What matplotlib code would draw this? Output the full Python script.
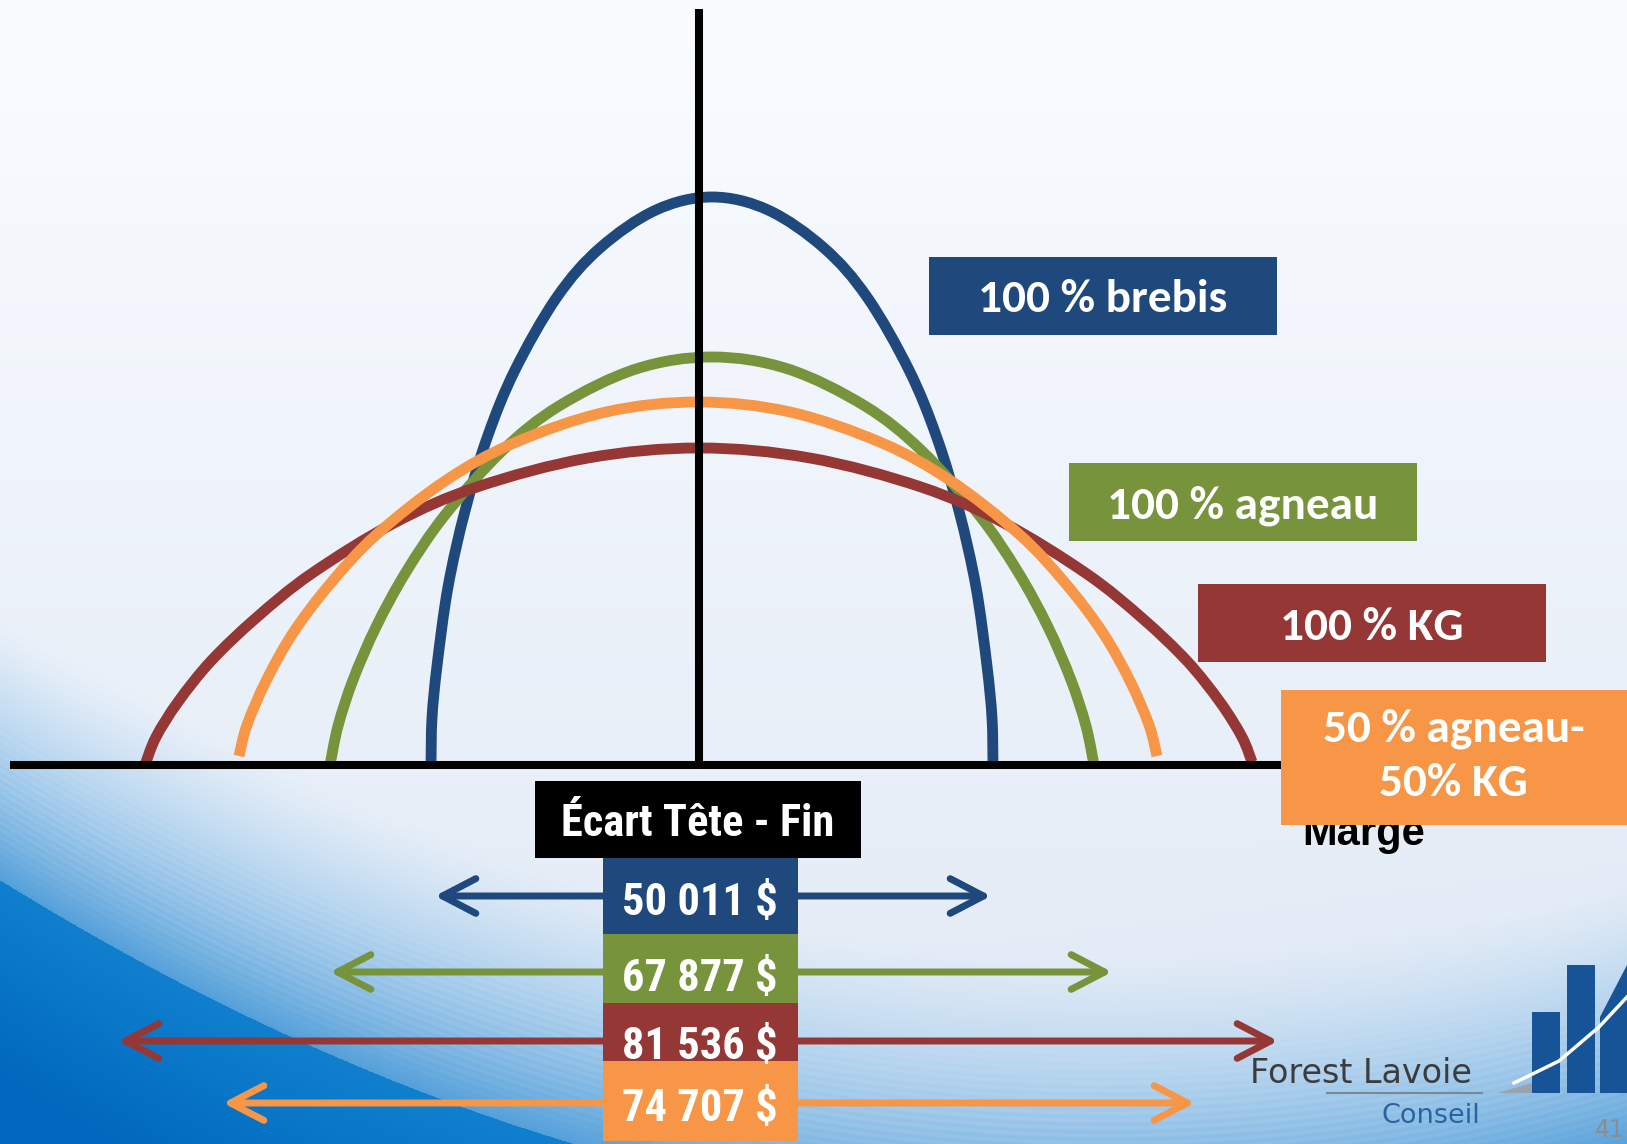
import numpy as np
import matplotlib
matplotlib.use("Agg")
import matplotlib.pyplot as plt
from matplotlib.patches import Rectangle, FancyArrowPatch, Polygon, ArrowStyle, PathPatch
from matplotlib.path import Path

# ------------------------------------------------------------------ data
series = ["100 % brebis", "100 % agneau", "100 % KG", "50 % agneau-\n50% KG"]
ecart_values = [50011, 67877, 81536, 74707]
ecart_title = "Écart Tête - Fin"
marge_title = "Marge"
colors = ["#1f497d", "#77933c", "#953735", "#f79646"]

# curves: x = position relative to the vertical axis, y = marge above the baseline
blue_x = [-268, -267, -262, -251, -234, -212, -184, -142, -99, -43, 13, 69, 125, 168, 210, 238, 260, 277, 288, 293, 294]
blue_y = [0, 47, 99, 178, 254, 327, 395, 468, 517, 555, 568, 555, 517, 468, 395, 327, 254, 178, 99, 47, 0]

green_x = [-369, -361, -346, -323, -293, -254, -197, -140, -63, 13, 89, 166, 223, 280, 319, 349, 372, 387, 395]
green_y = [0, 39, 85, 138, 193, 250, 314, 359, 396, 408, 396, 359, 314, 250, 193, 138, 85, 39, 0]

red_x = [-554, -543, -521, -488, -443, -388, -305, -222, -111, 0, 111, 222, 305, 388, 443, 488, 521, 543, 553]
red_y = [0, 28, 63, 104, 147, 191, 242, 278, 307, 317, 307, 278, 242, 191, 147, 104, 63, 28, 3]

orange_x = [-460, -452, -433, -406, -369, -323, -254, -185, -93, -1, 91, 183, 252, 321, 367, 404, 431, 450, 458]
orange_y = [9, 40, 84, 132, 181, 230, 284, 322, 353, 363, 353, 322, 284, 230, 181, 132, 84, 40, 9]

curves_x = [blue_x, green_x, red_x, orange_x]
curves_y = [blue_y, green_y, red_y, orange_y]

# spread arrows (écart tête - fin) left / right extents
arrow_left = [-264, -369, -581, -476]
arrow_right = [292, 413, 579, 496]

# ------------------------------------------------------------------ layout
W, H = 1627, 1144
X0, Y0 = 699, 765            # pixel position of the origin (axis crossing)
row_y = [-131, -207, -276, -338]
label_boxes = [(230, 430), (370, 224), (499, 103)]   # lower-left corners
label_w, label_h = 348, 78
orange_box = (582, -60, 360, 135)

LABEL_FONT = ["Carlito", "Lato", "DejaVu Sans"]
NARROW_FONT = ["Roboto Condensed", "PT Sans Narrow", "DejaVu Sans"]
ARIAL_FONT = ["Liberation Sans", "DejaVu Sans"]

fig = plt.figure(figsize=(W / 100, H / 100), dpi=100)
ax = fig.add_axes([0, 0, 1, 1])
xmin, xmax, ymin, ymax = -X0, W - X0, Y0 - H, Y0

# ---------------------------------------------------------------- background
yy, xx = np.mgrid[0:H, 0:W].astype(float)
top = np.array([250, 252, 255]) / 255
bot = np.array([224, 233, 245]) / 255
v = (yy / H)[..., None]
img = top * (1 - v) + bot * v
yb = 880 + 0.62 * xx - 0.00028 * xx ** 2
s = yy - yb
band_h = 270
t = np.clip((s + band_h) / band_h, 0, 1)[..., None]
band_col = np.array([85, 160, 218]) / 255
band = img * (1 - t ** 1.4) + band_col * t ** 1.4
stripe = (0.5 + 0.5 * np.sin(2 * np.pi * s / 7.5))[..., None]
amp = np.sin(np.pi * t) * 0.18
band = band * (1 - amp * stripe) + amp * stripe * np.array([0.75, 0.9, 1.0])
img = np.where((s > -band_h)[..., None], band, img)
u = np.clip(s / 200, 0, 1)[..., None]
solid = np.array([16, 128, 206]) / 255 * (1 - u) + np.array([0, 104, 190]) / 255 * u
img = np.where((s > 0)[..., None], solid, img)
# faint light swoosh lower right
yb2 = 1144 - 0.28 * (xx - 650)
s2 = yy - yb2
t2 = (np.clip(1 - np.abs(s2) / 140, 0, 1) * (xx > 650))[..., None]
img = img * (1 - 0.10 * t2) + np.array([205, 222, 240]) / 255 * 0.10 * t2
img = np.clip(img, 0, 1)
ax.imshow(img, extent=(xmin, xmax, ymin, ymax), origin="upper", aspect="auto", zorder=0)


# ---------------------------------------------------------------- curves
def smooth_path(px, py):
    """Catmull-Rom spline through the read points, drawn as cubic Bezier segments."""
    p = np.column_stack([px, py]).astype(float)
    ext = np.vstack([p[0], p, p[-1]])
    verts = [tuple(p[0])]
    codes = [Path.MOVETO]
    for i in range(1, len(ext) - 2):
        p0, p1, p2, p3 = ext[i - 1], ext[i], ext[i + 1], ext[i + 2]
        c1 = p1 + (p2 - p0) / 6.0
        c2 = p2 - (p3 - p1) / 6.0
        verts += [tuple(c1), tuple(c2), tuple(p2)]
        codes += [Path.CURVE4] * 3
    return Path(verts, codes)


for cx, cy, c in zip(curves_x, curves_y, colors):
    ax.add_patch(PathPatch(smooth_path(cx, cy), facecolor="none", edgecolor=c, lw=7.8,
                           capstyle="butt", joinstyle="round", zorder=3))

# axes
ax.plot([0, 0], [0, 756], color="black", lw=5.8, solid_capstyle="butt", zorder=4)
ax.plot([-689, 600], [0, 0], color="black", lw=5.8, solid_capstyle="butt", zorder=4)

# ---------------------------------------------------------------- label boxes
lab_font = dict(family=LABEL_FONT, weight="bold", color="white", fontsize=34)
for (bx, by), name, c in zip(label_boxes, series[:3], colors[:3]):
    ax.add_patch(Rectangle((bx, by), label_w, label_h, facecolor=c, edgecolor="none", zorder=5))
    ax.text(bx + label_w / 2, by + label_h / 2, name, ha="center", va="center_baseline", zorder=6, **lab_font)

# Marge (partly hidden by the orange box)
ax.text(603, -80, marge_title, family=ARIAL_FONT, weight="bold",
        fontsize=30, color="black", ha="left", va="baseline", zorder=5)
ox, oy, ow, oh = orange_box
ax.add_patch(Rectangle((ox, oy), ow, oh, facecolor=colors[3], edgecolor="none", zorder=6))
ax.text(ox + 345 / 2, oy + oh / 2 + 2, series[3], ha="center", va="center", zorder=7,
        linespacing=1.42, multialignment="center", **lab_font)

# ---------------------------------------------------------------- écart section
ax.add_patch(Rectangle((-164, -93), 326, 77, facecolor="black", edgecolor="none", zorder=5))
num_font = dict(family=NARROW_FONT, weight="bold", color="white")
ax.text(-1, -55, ecart_title, ha="center", va="center_baseline", fontsize=32, zorder=6, **num_font)

for i, (yl, l, r, val, c) in enumerate(zip(row_y, arrow_left, arrow_right, ecart_values, colors)):
    arr = FancyArrowPatch((l, yl), (r, yl),
                          arrowstyle=ArrowStyle("<->", head_length=24, head_width=12.5),
                          mutation_scale=1, lw=5, color=c, shrinkA=0, shrinkB=0,
                          capstyle="round", joinstyle="round", zorder=5 + i * 0.1)
    ax.add_patch(arr)
    ax.add_patch(Rectangle((-96, yl - 38), 195, 76 if i < 3 else 80, facecolor=c, edgecolor="none",
                           zorder=6 + i * 0.1))
    label = f"{val:,}".replace(",", " ") + " $"
    ax.text(1, yl - 2, label, ha="center", va="center_baseline", fontsize=32, zorder=7 + i * 0.1, **num_font)

# ---------------------------------------------------------------- logo & page number
ax.text(551, -318, "Forest Lavoie", family="DejaVu Sans", fontsize=24, color="#3c3c3c",
        ha="left", va="baseline", zorder=5)
ax.plot([628, 783], [-328, -328], color="#7a8794", lw=1.5, zorder=5)
ax.text(781, -358, "Conseil", family="DejaVu Sans", fontsize=19.5, color="#2a64a0",
        ha="right", va="baseline", zorder=5)
logo_blue = "#165497"
ax.add_patch(Polygon([(798, -328), (833, -318), (833, -328)], closed=True, facecolor="#9aa3ab",
                     edgecolor="none", zorder=5))
ax.add_patch(Rectangle((833, -328), 28, 81, facecolor=logo_blue, edgecolor="none", zorder=5))
ax.add_patch(Rectangle((868, -328), 28, 128, facecolor=logo_blue, edgecolor="none", zorder=5))
ax.add_patch(Polygon([(901, -328), (901, -252), (928, -200), (928, -328)], closed=True,
                     facecolor=logo_blue, edgecolor="none", zorder=5))
ax.plot([815, 860, 900, 928], [-318, -296, -262, -232], color="white", lw=2.5, zorder=6)
ax.text(896, -372, "41", family="DejaVu Sans", fontsize=17, color="#8c8c8c",
        ha="left", va="baseline", zorder=5)

ax.set_xlim(xmin, xmax)
ax.set_ylim(ymin, ymax)
ax.axis("off")
fig.savefig("out.png", dpi=100)
